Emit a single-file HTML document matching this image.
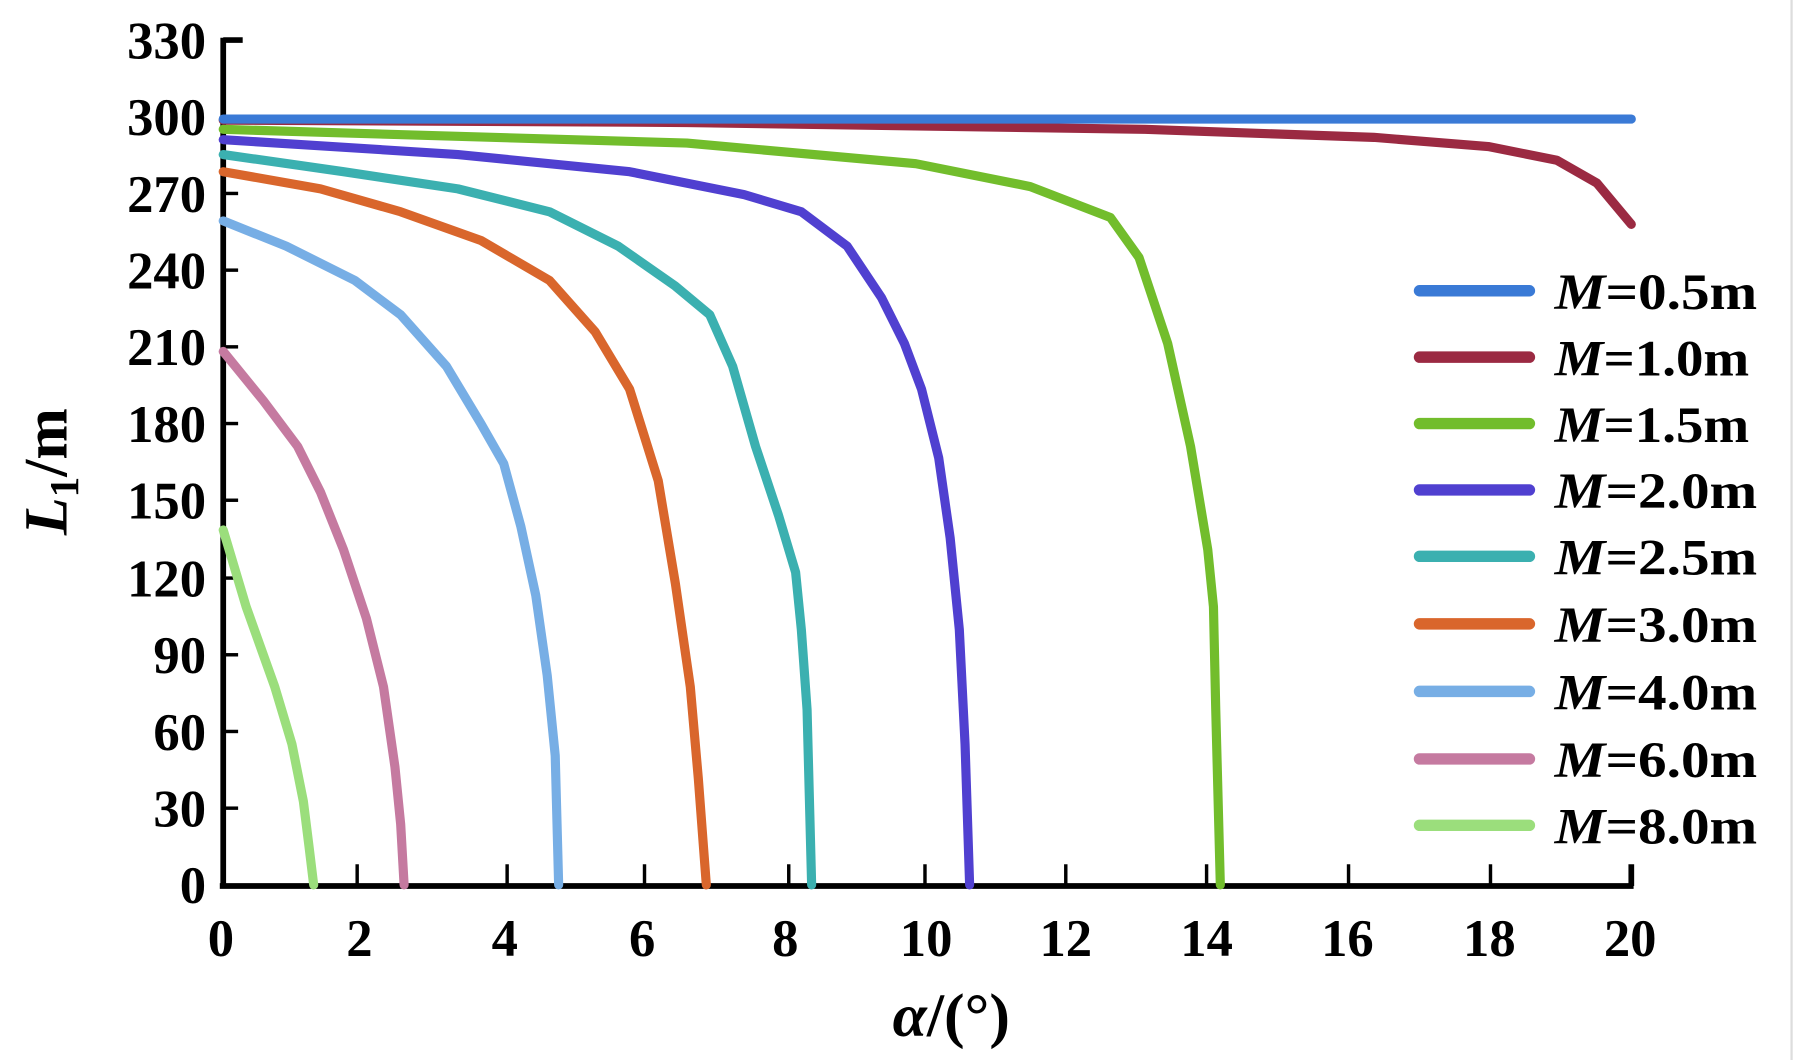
<!DOCTYPE html>
<html><head><meta charset="utf-8"><style>
html,body{margin:0;padding:0;background:#fff;}
svg{display:block;}
text{font-family:"Liberation Serif",serif;font-weight:bold;fill:#000;}
</style></head><body>
<svg width="1795" height="1060" viewBox="0 0 1568 926" preserveAspectRatio="none" xmlns="http://www.w3.org/2000/svg">
<rect width="1568" height="926" fill="#fff"/>
<g stroke="#000" stroke-width="5" fill="none">
<line x1="195" y1="33" x2="195" y2="776"/>
<line x1="192" y1="774" x2="1427" y2="774"/>
<line x1="195" y1="35" x2="212" y2="35"/>
<line x1="1425" y1="774" x2="1425" y2="755"/>
</g>
<g stroke="#000" stroke-width="3">
<line x1="195" y1="102" x2="208" y2="102"/><line x1="195" y1="169" x2="208" y2="169"/>
<line x1="195" y1="236" x2="208" y2="236"/><line x1="195" y1="303" x2="208" y2="303"/>
<line x1="195" y1="370" x2="208" y2="370"/><line x1="195" y1="437" x2="208" y2="437"/>
<line x1="195" y1="505" x2="208" y2="505"/><line x1="195" y1="572" x2="208" y2="572"/>
<line x1="195" y1="639" x2="208" y2="639"/><line x1="195" y1="706" x2="208" y2="706"/>
<line x1="312" y1="774" x2="312" y2="755"/><line x1="443" y1="774" x2="443" y2="755"/>
<line x1="563" y1="774" x2="563" y2="755"/><line x1="689" y1="774" x2="689" y2="755"/>
<line x1="808" y1="774" x2="808" y2="755"/><line x1="931" y1="774" x2="931" y2="755"/>
<line x1="1054" y1="774" x2="1054" y2="755"/><line x1="1178" y1="774" x2="1178" y2="755"/>
<line x1="1302" y1="774" x2="1302" y2="755"/>
</g>
<g font-size="46" text-anchor="end">
<text x="180" y="51">330</text><text x="180" y="118">300</text><text x="180" y="185">270</text>
<text x="180" y="252">240</text><text x="180" y="319">210</text><text x="180" y="386">180</text>
<text x="180" y="453">150</text><text x="180" y="521">120</text><text x="180" y="588">90</text>
<text x="180" y="655">60</text><text x="180" y="722">30</text><text x="180" y="789">0</text>
</g>
<g font-size="46" text-anchor="middle">
<text x="193" y="835">0</text><text x="314" y="835">2</text><text x="441" y="835">4</text>
<text x="561" y="835">6</text><text x="686" y="835">8</text><text x="809" y="835">10</text>
<text x="931" y="835">12</text><text x="1054" y="835">14</text><text x="1177" y="835">16</text>
<text x="1301" y="835">18</text><text x="1424" y="835">20</text>
</g>
<text x="831" y="905" font-size="54" text-anchor="middle"><tspan font-style="italic">α</tspan>/(°)</text>
<text transform="translate(58,412) rotate(-90)" font-size="54" text-anchor="middle"><tspan font-style="italic">L</tspan><tspan font-size="36" dy="10">1</tspan><tspan dy="-10">/m</tspan></text>
<g fill="none" stroke-width="8" stroke-linecap="round" stroke-linejoin="round">
<polyline stroke="#9bde7c" points="195,463 215,530 240,600 255,650 265,700 270,740 274,773"/>
<polyline stroke="#c57aa0" points="195,307 230,350 260,390 280,430 300,480 320,540 335,600 345,670 350,720 353,773"/>
<polyline stroke="#77aee5" points="195,193 250,215 310,245 350,275 390,320 420,370 440,405 455,460 468,520 478,590 485,660 488,773"/>
<polyline stroke="#d9662c" points="195,150 280,165 350,185 420,210 480,245 520,290 550,340 575,420 590,510 603,600 610,680 617,773"/>
<polyline stroke="#3bb0b0" points="195,135 300,150 400,165 480,185 540,215 590,250 620,275 640,320 660,390 680,450 695,500 700,550 705,620 709,773"/>
<polyline stroke="#5040d0" points="195,122 400,135 550,150 650,170 700,185 740,215 770,260 790,300 805,340 820,400 830,470 838,550 843,650 847,773"/>
<polyline stroke="#72bd2c" points="195,113 600,125 800,143 900,163 970,190 995,225 1020,300 1040,390 1055,480 1060,530 1062,620 1066,773"/>
<polyline stroke="#9b2a42" points="195,105 600,107 1000,113 1200,120 1300,128 1360,140 1395,160 1425,196"/>
<polyline stroke="#3a7ad6" points="195,104 1425,104"/>
</g>
<g stroke-width="10" stroke-linecap="round">
<line x1="1240" y1="254" x2="1336" y2="254" stroke="#3a7ad6"/>
<line x1="1240" y1="312" x2="1336" y2="312" stroke="#9b2a42"/>
<line x1="1240" y1="370" x2="1336" y2="370" stroke="#72bd2c"/>
<line x1="1240" y1="428" x2="1336" y2="428" stroke="#5040d0"/>
<line x1="1240" y1="486" x2="1336" y2="486" stroke="#3bb0b0"/>
<line x1="1240" y1="545" x2="1336" y2="545" stroke="#d9662c"/>
<line x1="1240" y1="604" x2="1336" y2="604" stroke="#77aee5"/>
<line x1="1240" y1="663" x2="1336" y2="663" stroke="#c57aa0"/>
<line x1="1240" y1="721" x2="1336" y2="721" stroke="#9bde7c"/>
</g>
<g font-size="44">
<text x="1358" y="270" textLength="177" lengthAdjust="spacingAndGlyphs"><tspan font-style="italic">M</tspan>=0.5m</text>
<text x="1358" y="328" textLength="170" lengthAdjust="spacingAndGlyphs"><tspan font-style="italic">M</tspan>=1.0m</text>
<text x="1358" y="386" textLength="170" lengthAdjust="spacingAndGlyphs"><tspan font-style="italic">M</tspan>=1.5m</text>
<text x="1358" y="444" textLength="177" lengthAdjust="spacingAndGlyphs"><tspan font-style="italic">M</tspan>=2.0m</text>
<text x="1358" y="502" textLength="177" lengthAdjust="spacingAndGlyphs"><tspan font-style="italic">M</tspan>=2.5m</text>
<text x="1358" y="561" textLength="177" lengthAdjust="spacingAndGlyphs"><tspan font-style="italic">M</tspan>=3.0m</text>
<text x="1358" y="620" textLength="177" lengthAdjust="spacingAndGlyphs"><tspan font-style="italic">M</tspan>=4.0m</text>
<text x="1358" y="679" textLength="177" lengthAdjust="spacingAndGlyphs"><tspan font-style="italic">M</tspan>=6.0m</text>
<text x="1358" y="737" textLength="177" lengthAdjust="spacingAndGlyphs"><tspan font-style="italic">M</tspan>=8.0m</text>
</g>
<line x1="1565" y1="0" x2="1565" y2="926" stroke="#ddd" stroke-width="2"/>
</svg>
</body></html>
